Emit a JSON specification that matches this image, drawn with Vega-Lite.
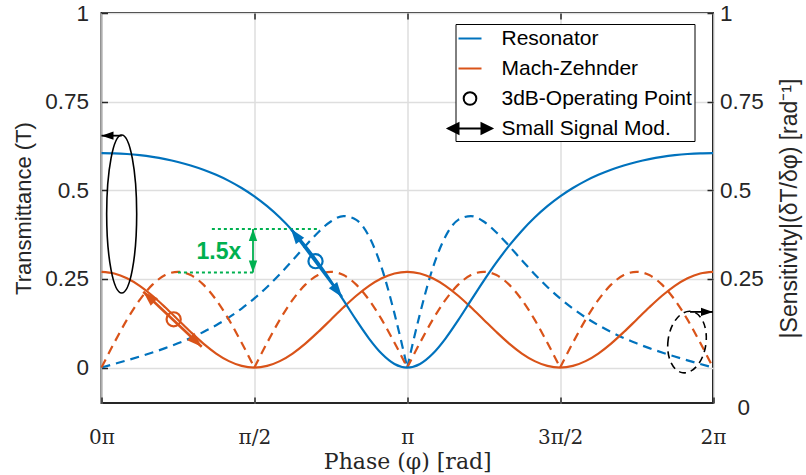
{
  "$schema": "https://vega.github.io/schema/vega-lite/v6.json",
  "width": 611.5,
  "height": 390,
  "autosize": {"type": "none"},
  "padding": {"left": 101.5, "top": 13, "right": 93, "bottom": 72},
  "background": "white",
  "config": {
    "view": {"stroke": "#262626", "strokeWidth": 2},
    "axis": {
      "domain": false,
      "labelFont": "Liberation Sans",
      "labelFontSize": 22.5,
      "labelColor": "#262626",
      "titleFont": "Liberation Sans",
      "titleFontSize": 22,
      "titleFontWeight": "normal",
      "titleColor": "#262626",
      "tickColor": "#262626",
      "tickWidth": 1.5,
      "tickSize": -6,
      "gridColor": "#dedede",
      "gridWidth": 1.5,
      "gridOpacity": 1
    },
    "legend": {
      "padding": 2,
      "strokeColor": "#000000",
      "strokeWidth": 1,
      "fillColor": "white",
      "labelFont": "Liberation Sans",
      "labelFontSize": 21,
      "labelColor": "#000000",
      "labelOffset": 19,
      "labelLimit": 0,
      "rowPadding": 7,
      "symbolSize": 529,
      "symbolStrokeWidth": 2,
      "symbolOpacity": 1,
      "cornerRadius": 0
    }
  },
  "datasets": {
    "trans": [
      {"phi": 0, "res": 0.6049, "mz": 0.27},
      {"phi": 0.0417, "res": 0.6043, "mz": 0.2654},
      {"phi": 0.0833, "res": 0.6023, "mz": 0.2519},
      {"phi": 0.125, "res": 0.5989, "mz": 0.2305},
      {"phi": 0.1667, "res": 0.5941, "mz": 0.2025},
      {"phi": 0.2083, "res": 0.5878, "mz": 0.1699},
      {"phi": 0.25, "res": 0.5798, "mz": 0.135},
      {"phi": 0.2917, "res": 0.5699, "mz": 0.1001},
      {"phi": 0.3333, "res": 0.5579, "mz": 0.0675},
      {"phi": 0.375, "res": 0.5435, "mz": 0.0395},
      {"phi": 0.4167, "res": 0.5265, "mz": 0.0181},
      {"phi": 0.4583, "res": 0.5063, "mz": 0.0046},
      {"phi": 0.5, "res": 0.4827, "mz": 0},
      {"phi": 0.5417, "res": 0.4551, "mz": 0.0046},
      {"phi": 0.5833, "res": 0.423, "mz": 0.0181},
      {"phi": 0.625, "res": 0.386, "mz": 0.0395},
      {"phi": 0.6667, "res": 0.3438, "mz": 0.0675},
      {"phi": 0.7083, "res": 0.2964, "mz": 0.1001},
      {"phi": 0.75, "res": 0.2444, "mz": 0.135},
      {"phi": 0.7917, "res": 0.1892, "mz": 0.1699},
      {"phi": 0.8333, "res": 0.1337, "mz": 0.2025},
      {"phi": 0.875, "res": 0.0818, "mz": 0.2305},
      {"phi": 0.9167, "res": 0.0388, "mz": 0.2519},
      {"phi": 0.9583, "res": 0.0101, "mz": 0.2654},
      {"phi": 1, "res": 0, "mz": 0.27},
      {"phi": 1.0417, "res": 0.0101, "mz": 0.2654},
      {"phi": 1.0833, "res": 0.0388, "mz": 0.2519},
      {"phi": 1.125, "res": 0.0818, "mz": 0.2305},
      {"phi": 1.1667, "res": 0.1337, "mz": 0.2025},
      {"phi": 1.2083, "res": 0.1892, "mz": 0.1699},
      {"phi": 1.25, "res": 0.2444, "mz": 0.135},
      {"phi": 1.2917, "res": 0.2964, "mz": 0.1001},
      {"phi": 1.3333, "res": 0.3438, "mz": 0.0675},
      {"phi": 1.375, "res": 0.386, "mz": 0.0395},
      {"phi": 1.4167, "res": 0.423, "mz": 0.0181},
      {"phi": 1.4583, "res": 0.4551, "mz": 0.0046},
      {"phi": 1.5, "res": 0.4827, "mz": 0},
      {"phi": 1.5417, "res": 0.5063, "mz": 0.0046},
      {"phi": 1.5833, "res": 0.5265, "mz": 0.0181},
      {"phi": 1.625, "res": 0.5435, "mz": 0.0395},
      {"phi": 1.6667, "res": 0.5579, "mz": 0.0675},
      {"phi": 1.7083, "res": 0.5699, "mz": 0.1001},
      {"phi": 1.75, "res": 0.5798, "mz": 0.135},
      {"phi": 1.7917, "res": 0.5878, "mz": 0.1699},
      {"phi": 1.8333, "res": 0.5941, "mz": 0.2025},
      {"phi": 1.875, "res": 0.5989, "mz": 0.2305},
      {"phi": 1.9167, "res": 0.6023, "mz": 0.2519},
      {"phi": 1.9583, "res": 0.6043, "mz": 0.2654},
      {"phi": 2, "res": 0.6049, "mz": 0.27}
    ],
    "sens": [
      {"c": "res", "a": 1, "phi": 0, "s": 0},
      {"c": "res", "a": 1, "phi": 0.0417, "s": 0.0101},
      {"c": "res", "a": 1, "phi": 0.0833, "s": 0.0203},
      {"c": "res", "a": 1, "phi": 0.125, "s": 0.031},
      {"c": "res", "a": 1, "phi": 0.1667, "s": 0.0424},
      {"c": "res", "a": 1, "phi": 0.2083, "s": 0.0547},
      {"c": "res", "a": 1, "phi": 0.25, "s": 0.0683},
      {"c": "res", "a": 1, "phi": 0.2917, "s": 0.0833},
      {"c": "res", "a": 1, "phi": 0.3333, "s": 0.1003},
      {"c": "res", "a": 1, "phi": 0.375, "s": 0.1195},
      {"c": "res", "a": 1, "phi": 0.4167, "s": 0.1414},
      {"c": "res", "a": 1, "phi": 0.4583, "s": 0.1665},
      {"c": "res", "a": 1, "phi": 0.5, "s": 0.195},
      {"c": "res", "a": 1, "phi": 0.5417, "s": 0.2274},
      {"c": "res", "a": 1, "phi": 0.5833, "s": 0.2634},
      {"c": "res", "a": 1, "phi": 0.625, "s": 0.3024},
      {"c": "res", "a": 1, "phi": 0.6667, "s": 0.3427},
      {"c": "res", "a": 1, "phi": 0.7083, "s": 0.3811},
      {"c": "res", "a": 1, "phi": 0.75, "s": 0.412},
      {"c": "res", "a": 1, "phi": 0.7917, "s": 0.4272},
      {"c": "res", "a": 1, "phi": 0.8333, "s": 0.4165},
      {"c": "res", "a": 1, "phi": 0.875, "s": 0.3696},
      {"c": "res", "a": 1, "phi": 0.9167, "s": 0.2803},
      {"c": "res", "a": 1, "phi": 0.9583, "s": 0.1521},
      {"c": "res", "a": 1, "phi": 1, "s": 0},
      {"c": "res", "a": 2, "phi": 1, "s": 0},
      {"c": "res", "a": 2, "phi": 1.0417, "s": 0.1521},
      {"c": "res", "a": 2, "phi": 1.0833, "s": 0.2803},
      {"c": "res", "a": 2, "phi": 1.125, "s": 0.3696},
      {"c": "res", "a": 2, "phi": 1.1667, "s": 0.4165},
      {"c": "res", "a": 2, "phi": 1.2083, "s": 0.4272},
      {"c": "res", "a": 2, "phi": 1.25, "s": 0.412},
      {"c": "res", "a": 2, "phi": 1.2917, "s": 0.3811},
      {"c": "res", "a": 2, "phi": 1.3333, "s": 0.3427},
      {"c": "res", "a": 2, "phi": 1.375, "s": 0.3024},
      {"c": "res", "a": 2, "phi": 1.4167, "s": 0.2634},
      {"c": "res", "a": 2, "phi": 1.4583, "s": 0.2274},
      {"c": "res", "a": 2, "phi": 1.5, "s": 0.195},
      {"c": "res", "a": 2, "phi": 1.5417, "s": 0.1665},
      {"c": "res", "a": 2, "phi": 1.5833, "s": 0.1414},
      {"c": "res", "a": 2, "phi": 1.625, "s": 0.1195},
      {"c": "res", "a": 2, "phi": 1.6667, "s": 0.1003},
      {"c": "res", "a": 2, "phi": 1.7083, "s": 0.0833},
      {"c": "res", "a": 2, "phi": 1.75, "s": 0.0683},
      {"c": "res", "a": 2, "phi": 1.7917, "s": 0.0547},
      {"c": "res", "a": 2, "phi": 1.8333, "s": 0.0424},
      {"c": "res", "a": 2, "phi": 1.875, "s": 0.031},
      {"c": "res", "a": 2, "phi": 1.9167, "s": 0.0203},
      {"c": "res", "a": 2, "phi": 1.9583, "s": 0.0101},
      {"c": "res", "a": 2, "phi": 2, "s": 0},
      {"c": "mz", "a": 1, "phi": 0, "s": 0},
      {"c": "mz", "a": 1, "phi": 0.0417, "s": 0.0699},
      {"c": "mz", "a": 1, "phi": 0.0833, "s": 0.135},
      {"c": "mz", "a": 1, "phi": 0.125, "s": 0.1909},
      {"c": "mz", "a": 1, "phi": 0.1667, "s": 0.2338},
      {"c": "mz", "a": 1, "phi": 0.2083, "s": 0.2608},
      {"c": "mz", "a": 1, "phi": 0.25, "s": 0.27},
      {"c": "mz", "a": 1, "phi": 0.2917, "s": 0.2608},
      {"c": "mz", "a": 1, "phi": 0.3333, "s": 0.2338},
      {"c": "mz", "a": 1, "phi": 0.375, "s": 0.1909},
      {"c": "mz", "a": 1, "phi": 0.4167, "s": 0.135},
      {"c": "mz", "a": 1, "phi": 0.4583, "s": 0.0699},
      {"c": "mz", "a": 1, "phi": 0.5, "s": 0},
      {"c": "mz", "a": 2, "phi": 0.5, "s": 0},
      {"c": "mz", "a": 2, "phi": 0.5417, "s": 0.0699},
      {"c": "mz", "a": 2, "phi": 0.5833, "s": 0.135},
      {"c": "mz", "a": 2, "phi": 0.625, "s": 0.1909},
      {"c": "mz", "a": 2, "phi": 0.6667, "s": 0.2338},
      {"c": "mz", "a": 2, "phi": 0.7083, "s": 0.2608},
      {"c": "mz", "a": 2, "phi": 0.75, "s": 0.27},
      {"c": "mz", "a": 2, "phi": 0.7917, "s": 0.2608},
      {"c": "mz", "a": 2, "phi": 0.8333, "s": 0.2338},
      {"c": "mz", "a": 2, "phi": 0.875, "s": 0.1909},
      {"c": "mz", "a": 2, "phi": 0.9167, "s": 0.135},
      {"c": "mz", "a": 2, "phi": 0.9583, "s": 0.0699},
      {"c": "mz", "a": 2, "phi": 1, "s": 0},
      {"c": "mz", "a": 3, "phi": 1, "s": 0},
      {"c": "mz", "a": 3, "phi": 1.0417, "s": 0.0699},
      {"c": "mz", "a": 3, "phi": 1.0833, "s": 0.135},
      {"c": "mz", "a": 3, "phi": 1.125, "s": 0.1909},
      {"c": "mz", "a": 3, "phi": 1.1667, "s": 0.2338},
      {"c": "mz", "a": 3, "phi": 1.2083, "s": 0.2608},
      {"c": "mz", "a": 3, "phi": 1.25, "s": 0.27},
      {"c": "mz", "a": 3, "phi": 1.2917, "s": 0.2608},
      {"c": "mz", "a": 3, "phi": 1.3333, "s": 0.2338},
      {"c": "mz", "a": 3, "phi": 1.375, "s": 0.1909},
      {"c": "mz", "a": 3, "phi": 1.4167, "s": 0.135},
      {"c": "mz", "a": 3, "phi": 1.4583, "s": 0.0699},
      {"c": "mz", "a": 3, "phi": 1.5, "s": 0},
      {"c": "mz", "a": 4, "phi": 1.5, "s": 0},
      {"c": "mz", "a": 4, "phi": 1.5417, "s": 0.0699},
      {"c": "mz", "a": 4, "phi": 1.5833, "s": 0.135},
      {"c": "mz", "a": 4, "phi": 1.625, "s": 0.1909},
      {"c": "mz", "a": 4, "phi": 1.6667, "s": 0.2338},
      {"c": "mz", "a": 4, "phi": 1.7083, "s": 0.2608},
      {"c": "mz", "a": 4, "phi": 1.75, "s": 0.27},
      {"c": "mz", "a": 4, "phi": 1.7917, "s": 0.2608},
      {"c": "mz", "a": 4, "phi": 1.8333, "s": 0.2338},
      {"c": "mz", "a": 4, "phi": 1.875, "s": 0.1909},
      {"c": "mz", "a": 4, "phi": 1.9167, "s": 0.135},
      {"c": "mz", "a": 4, "phi": 1.9583, "s": 0.0699},
      {"c": "mz", "a": 4, "phi": 2, "s": 0}
    ],
    "ops": [
      {"c": "res", "phi": 0.7, "v": 0.3},
      {"c": "mz", "phi": 0.236, "v": 0.136}
    ],
    "shafts": [
      {"c": "res", "phi": 0.6198, "v": 0.3907, "phi2": 0.7866, "v2": 0.1989},
      {"c": "mz", "phi": 0.1367, "v": 0.2138, "phi2": 0.3277, "v2": 0.0587},
      {"c": "green", "phi": 0.4955, "v": 0.3907, "phi2": 0.4955, "v2": 0.268},
      {"c": "black", "phi": 0, "v": 0.654, "phi2": 0.066, "v2": 0.654},
      {"c": "black", "phi": 1.925, "v": 0.157, "phi2": 2, "v2": 0.157}
    ],
    "heads": [
      {"c": "res", "phi": 0.6198, "v": 0.3907, "dir": 323},
      {"c": "res", "phi": 0.7866, "v": 0.1989, "dir": 143},
      {"c": "mz", "phi": 0.1367, "v": 0.2138, "dir": 313},
      {"c": "mz", "phi": 0.3277, "v": 0.0587, "dir": 133},
      {"c": "green", "phi": 0.4955, "v": 0.3907, "dir": 0},
      {"c": "green", "phi": 0.4955, "v": 0.268, "dir": 180},
      {"c": "black", "phi": 0, "v": 0.654, "dir": 270},
      {"c": "black", "phi": 2, "v": 0.157, "dir": 90}
    ],
    "dots": [
      {"c": "green", "phi": 0.361, "phi2": 0.708, "v": 0.3907},
      {"c": "green", "phi": 0.25, "phi2": 0.4955, "v": 0.268}
    ]
  },
  "resolve": {"axis": {"x": "independent", "y": "independent"}},
  "layer": [
    {
      "data": {"name": "sens"},
      "mark": {"type": "line", "strokeWidth": 2.2, "strokeDash": [9, 6], "interpolate": "monotone"},
      "encoding": {
        "x": {"field": "phi", "type": "quantitative", "scale": {"domain": [0, 2], "nice": false},
          "axis": {"orient": "top", "values": [0.5, 1, 1.5], "labels": false, "title": null, "grid": false}},
        "y": {"field": "s", "type": "quantitative", "scale": {"domain": [-0.1, 1], "nice": false, "zero": false},
          "axis": {"orient": "right", "values": [-0.1, 0.25, 0.5, 0.75, 1],
            "labelExpr": "datum.value < 0 ? '0' : datum.value + ''",
            "labelPadding": {"condition": {"test": "datum.value < 0", "value": 30}, "value": 12.5},
            "labelOffset": {"condition": {"test": "datum.value < 0", "value": 4}, "value": 0},
            "tickOpacity": {"condition": {"test": "datum.value < 0", "value": 0}, "value": 1},
            "title": "|Sensitivity|(δT/δφ)  [rad⁻¹]", "titleAngle": 270, "titleBaseline": "top", "titlePadding": 15, "titleFontSize": 23, "grid": false}},
        "color": {"field": "c", "type": "nominal", "scale": {"domain": ["res", "mz", "green", "black"], "range": ["#0072BD", "#D95319", "#00B050", "#000000"]}, "legend": null},
        "detail": {"field": "a", "type": "nominal"}
      }
    },
    {
      "data": {"name": "trans"},
      "mark": {"type": "line", "color": "#D95319", "strokeWidth": 2.2, "interpolate": "monotone"},
      "encoding": {
        "x": {"field": "phi", "type": "quantitative", "scale": {"domain": [0, 2], "nice": false}, "axis": null},
        "y": {"field": "mz", "type": "quantitative", "scale": {"domain": [-0.1, 1], "nice": false, "zero": false}, "axis": null}
      }
    },
    {
      "data": {"name": "trans"},
      "mark": {"type": "line", "color": "#0072BD", "strokeWidth": 2.2, "interpolate": "monotone"},
      "encoding": {
        "x": {"field": "phi", "type": "quantitative", "scale": {"domain": [0, 2], "nice": false},
          "axis": {"orient": "bottom", "values": [0, 0.5, 1, 1.5, 2],
            "labelExpr": "datum.value == 0 ? '0π' : datum.value == 0.5 ? 'π/2' : datum.value == 1 ? 'π' : datum.value == 1.5 ? '3π/2' : '2π'",
            "labelFont": "DejaVu Serif", "labelFontSize": 20, "labelPadding": 30, "labelFlush": false,
            "title": "Phase (φ) [rad]", "titleFont": "DejaVu Serif", "titleFontSize": 22, "titlePadding": 4, "grid": true}},
        "y": {"field": "res", "type": "quantitative", "scale": {"domain": [-0.1, 1], "nice": false, "zero": false},
          "axis": {"orient": "left", "values": [0, 0.25, 0.5, 0.75, 1], "labelExpr": "datum.value + ''",
            "labelPadding": 19, "title": "Transmittance (T)", "titlePadding": 9, "grid": true}}
      }
    },
    {
      "data": {"name": "dots"},
      "mark": {"type": "rule", "strokeWidth": 2, "strokeDash": [3, 3]},
      "encoding": {
        "x": {"field": "phi", "type": "quantitative", "scale": {"domain": [0, 2], "nice": false}, "axis": null},
        "x2": {"field": "phi2"},
        "y": {"field": "v", "type": "quantitative", "scale": {"domain": [-0.1, 1], "nice": false, "zero": false}, "axis": null},
        "color": {"field": "c", "type": "nominal", "scale": {"domain": ["res", "mz", "green", "black"], "range": ["#0072BD", "#D95319", "#00B050", "#000000"]}, "legend": null}
      }
    },
    {
      "data": {"name": "shafts"},
      "transform": [{"filter": "datum.c == 'res' || datum.c == 'mz'"}],
      "mark": {"type": "rule", "strokeWidth": 2.6},
      "encoding": {
        "x": {"field": "phi", "type": "quantitative", "scale": {"domain": [0, 2], "nice": false}, "axis": null},
        "x2": {"field": "phi2"},
        "y": {"field": "v", "type": "quantitative", "scale": {"domain": [-0.1, 1], "nice": false, "zero": false}, "axis": null},
        "y2": {"field": "v2"},
        "color": {"field": "c", "type": "nominal", "scale": {"domain": ["res", "mz", "green", "black"], "range": ["#0072BD", "#D95319", "#00B050", "#000000"]}, "legend": null}
      }
    },
    {
      "data": {"name": "shafts"},
      "transform": [{"filter": "datum.c == 'green' || datum.c == 'black'"}],
      "mark": {"type": "rule", "strokeWidth": 1.8},
      "encoding": {
        "x": {"field": "phi", "type": "quantitative", "scale": {"domain": [0, 2], "nice": false}, "axis": null},
        "x2": {"field": "phi2"},
        "y": {"field": "v", "type": "quantitative", "scale": {"domain": [-0.1, 1], "nice": false, "zero": false}, "axis": null},
        "y2": {"field": "v2"},
        "color": {"field": "c", "type": "nominal", "scale": {"domain": ["res", "mz", "green", "black"], "range": ["#0072BD", "#D95319", "#00B050", "#000000"]}, "legend": null}
      }
    },
    {
      "data": {"name": "heads"},
      "transform": [{"filter": "datum.c == 'res' || datum.c == 'mz'"}],
      "mark": {"type": "point", "filled": true, "opacity": 1, "shape": "M0,0L0.42,1.2L-0.42,1.2Z", "size": 625},
      "encoding": {
        "x": {"field": "phi", "type": "quantitative", "scale": {"domain": [0, 2], "nice": false}, "axis": null},
        "y": {"field": "v", "type": "quantitative", "scale": {"domain": [-0.1, 1], "nice": false, "zero": false}, "axis": null},
        "angle": {"field": "dir", "type": "quantitative", "scale": {"domain": [0, 360], "range": [0, 360]}},
        "color": {"field": "c", "type": "nominal", "scale": {"domain": ["res", "mz", "green", "black"], "range": ["#0072BD", "#D95319", "#00B050", "#000000"]}, "legend": null}
      }
    },
    {
      "data": {"name": "heads"},
      "transform": [{"filter": "datum.c == 'green' || datum.c == 'black'"}],
      "mark": {"type": "point", "filled": true, "opacity": 1, "shape": "M0,0L0.42,1.2L-0.42,1.2Z", "size": 400},
      "encoding": {
        "x": {"field": "phi", "type": "quantitative", "scale": {"domain": [0, 2], "nice": false}, "axis": null},
        "y": {"field": "v", "type": "quantitative", "scale": {"domain": [-0.1, 1], "nice": false, "zero": false}, "axis": null},
        "angle": {"field": "dir", "type": "quantitative", "scale": {"domain": [0, 360], "range": [0, 360]}},
        "color": {"field": "c", "type": "nominal", "scale": {"domain": ["res", "mz", "green", "black"], "range": ["#0072BD", "#D95319", "#00B050", "#000000"]}, "legend": null}
      }
    },
    {
      "data": {"name": "ops"},
      "mark": {"type": "point", "filled": false, "opacity": 1, "shape": "circle", "size": 201, "strokeWidth": 2.2},
      "encoding": {
        "x": {"field": "phi", "type": "quantitative", "scale": {"domain": [0, 2], "nice": false}, "axis": null},
        "y": {"field": "v", "type": "quantitative", "scale": {"domain": [-0.1, 1], "nice": false, "zero": false}, "axis": null},
        "color": {"field": "c", "type": "nominal", "scale": {"domain": ["res", "mz", "green", "black"], "range": ["#0072BD", "#D95319", "#00B050", "#000000"]}, "legend": null}
      }
    },
    {
      "data": {"values": [{"phi": 0.066, "v": 0.433}]},
      "mark": {"type": "point", "filled": false, "opacity": 1, "color": "#000000", "strokeWidth": 1.6, "size": 24964,
        "shape": "M-0.19,0A0.19,1 0 1,0 0.19,0A0.19,1 0 1,0 -0.19,0Z"},
      "encoding": {
        "x": {"field": "phi", "type": "quantitative", "scale": {"domain": [0, 2], "nice": false}, "axis": null},
        "y": {"field": "v", "type": "quantitative", "scale": {"domain": [-0.1, 1], "nice": false, "zero": false}, "axis": null}
      }
    },
    {
      "data": {"values": [{"phi": 1.915, "v": 0.072}]},
      "mark": {"type": "point", "filled": false, "opacity": 1, "color": "#000000", "strokeWidth": 1.6, "size": 3844, "angle": 8,
        "strokeDash": [7, 5], "shape": "M-0.613,0A0.613,1 0 1,0 0.613,0A0.613,1 0 1,0 -0.613,0Z"},
      "encoding": {
        "x": {"field": "phi", "type": "quantitative", "scale": {"domain": [0, 2], "nice": false}, "axis": null},
        "y": {"field": "v", "type": "quantitative", "scale": {"domain": [-0.1, 1], "nice": false, "zero": false}, "axis": null}
      }
    },
    {
      "data": {"values": [{"phi": 0.384, "v": 0.327, "label": "1.5x"}]},
      "mark": {"type": "text", "font": "Liberation Sans", "fontSize": 23, "fontWeight": "bold", "color": "#00B050", "align": "center", "baseline": "middle"},
      "encoding": {
        "x": {"field": "phi", "type": "quantitative", "scale": {"domain": [0, 2], "nice": false}, "axis": null},
        "y": {"field": "v", "type": "quantitative", "scale": {"domain": [-0.1, 1], "nice": false, "zero": false}, "axis": null},
        "text": {"field": "label"}
      }
    },
    {
      "data": {"values": [
        {"series": "Resonator"},
        {"series": "Mach-Zehnder"},
        {"series": "3dB-Operating Point"},
        {"series": "Small Signal Mod."}
      ]},
      "mark": {"type": "point", "filled": true, "opacity": 0},
      "encoding": {
        "shape": {"field": "series", "type": "nominal",
          "scale": {"domain": ["Resonator", "Mach-Zehnder", "3dB-Operating Point", "Small Signal Mod."],
            "range": ["M-1,0L1,0", "M-1,0L1,0", "M0.55,0A0.55,0.55 0 1,1 -0.55,0A0.55,0.55 0 1,1 0.55,0Z", "M-1.9,0L-1,-0.45L-1,0.45Z M1.9,0L1,-0.45L1,0.45Z M-1,0L1,0"]},
          "legend": {"title": null, "orient": "none", "legendX": 354, "legendY": 11}},
        "stroke": {"field": "series", "type": "nominal",
          "scale": {"domain": ["Resonator", "Mach-Zehnder", "3dB-Operating Point", "Small Signal Mod."],
            "range": ["#0072BD", "#D95319", "#000000", "#000000"]},
          "legend": {"title": null, "orient": "none", "legendX": 354, "legendY": 11}},
        "fill": {"field": "series", "type": "nominal",
          "scale": {"domain": ["Resonator", "Mach-Zehnder", "3dB-Operating Point", "Small Signal Mod."],
            "range": ["transparent", "transparent", "transparent", "#000000"]},
          "legend": {"title": null, "orient": "none", "legendX": 354, "legendY": 11}}
      }
    }
  ]
}
